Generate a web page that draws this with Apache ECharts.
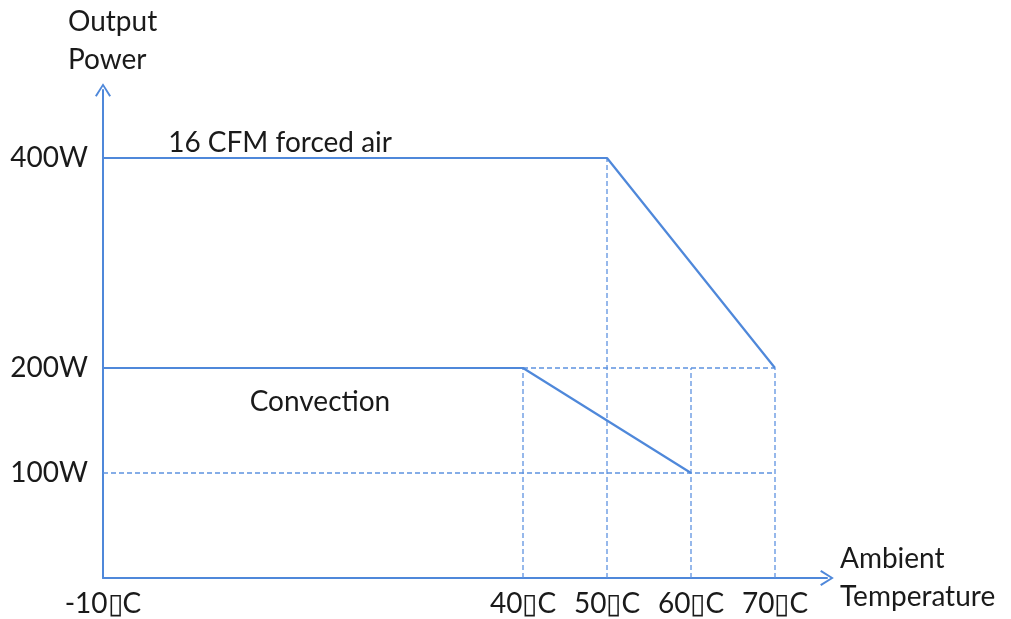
<!DOCTYPE html>
<html>
<head>
<meta charset="utf-8">
<script src="https://cdn.jsdelivr.net/npm/echarts@6/dist/echarts.min.js"></script>
<style>html,body{margin:0;padding:0;background:#fff;}#c{width:1011px;height:619px;}</style>
</head>
<body>
<div id="c"></div>
<script>
// Data
const forcedAir = [[-10, 400], [50, 400], [70, 200]];
const convection = [[-10, 200], [40, 200], [60, 100]];
const xTicks = [-10, 40, 50, 60, 70];
const yTicks = [100, 200, 400];
const guideLines = [
  [[40, 0], [40, 200]],
  [[50, 0], [50, 400]],
  [[60, 0], [60, 200]],
  [[70, 0], [70, 200]],
  [[40, 200], [70, 200]],
  [[-10, 100], [70, 100]]
];
const annotations = [[-2.3, 414, '16 CFM forced air'], [7.4, 167.6, 'Convection']];
const xName = 'Ambient\nTemperature';
const yName = 'Output\nPower';

const BLUE = '#4f88da';
const DASH = '#5e92e0';
const FONT = 'Lato';
const FS = 28;
const TXT = '#1a1a1a';
const arrowPath = 'path://M8,0 L16,12.6 L14.3,13.7 L8,3.4 L1.7,13.7 L0,12.6 Z';

const guideSeries = guideLines.map(seg => ({
  type: 'line', data: seg, symbol: 'none', silent: true, z: 2,
  color: DASH,
  lineStyle: {color: DASH, width: 1.3, type: [5, 3], opacity: 1}
}));

const chart = echarts.init(document.getElementById('c'), null, {renderer: 'canvas'});
chart.setOption({
  animation: false,
  backgroundColor: '#fff',
  grid: {left: 103, right: 184, top: 90, bottom: 41, containLabel: false},
  xAxis: {
    type: 'value', min: -10, max: 76.19,
    name: xName, nameLocation: 'end', nameGap: 13,
    nameTextStyle: {fontFamily: FONT, fontSize: FS, color: TXT, lineHeight: 38, align: 'left'},
    splitLine: {show: false},
    axisTick: {show: false},
    axisLine: {show: true, onZero: false, lineStyle: {color: BLUE, width: 2}, symbol: ['none', arrowPath], symbolSize: [16, 14]},
    axisLabel: {customValues: xTicks, formatter: v => v + '\u25AFC', fontFamily: FONT, fontSize: FS, color: TXT, margin: 12}
  },
  yAxis: {
    type: 'value', min: 0, max: 464.76,
    splitLine: {show: false},
    axisTick: {show: false},
    axisLine: {show: true, onZero: false, lineStyle: {color: BLUE, width: 2}, symbol: ['none', arrowPath], symbolSize: [16, 14]},
    axisLabel: {customValues: yTicks, formatter: v => v + 'W', fontFamily: FONT, fontSize: FS, color: TXT, margin: 15}
  },
  graphic: [{
    type: 'text', left: 68, top: 3,
    style: {text: yName, font: FS + 'px ' + FONT, fill: TXT, lineHeight: 38}
  }],
  series: [
    {type: 'line', data: forcedAir, symbol: 'none', color: BLUE, lineStyle: {color: BLUE, width: 2.2}, z: 5},
    {type: 'line', data: convection, symbol: 'none', color: BLUE, lineStyle: {color: BLUE, width: 2.2}, z: 5},
    ...guideSeries,
    {
      type: 'scatter', data: annotations, symbolSize: 1, z: 6,
      itemStyle: {opacity: 0},
      label: {show: true, position: 'right', distance: 0, formatter: p => p.value[2],
        fontFamily: FONT, fontSize: FS, color: TXT, opacity: 1}
    }
  ]
});
</script>
</body>
</html>
